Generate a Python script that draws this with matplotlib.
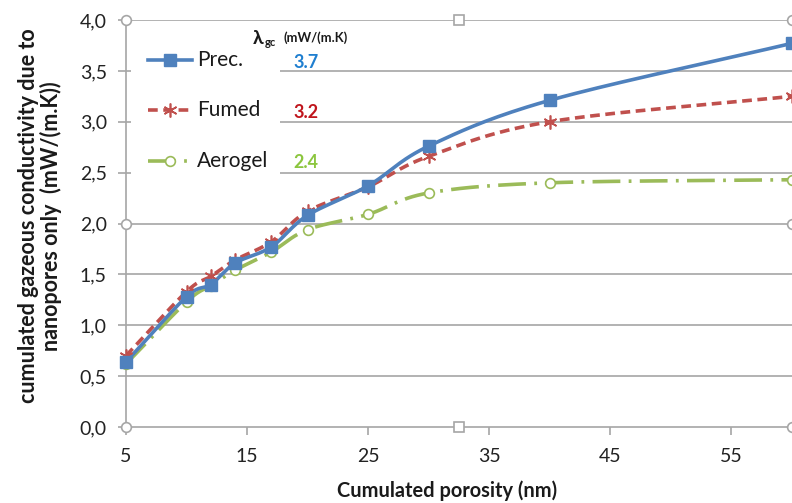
import numpy as np
import matplotlib
matplotlib.use("Agg")
import matplotlib.pyplot as plt
from matplotlib.patches import Rectangle
from matplotlib.lines import Line2D

plt.rcParams['font.family'] = ['Lato', 'DejaVu Sans']
plt.rcParams['lines.scale_dashes'] = False

# ---- data ----
pore_size = [5, 10, 12, 14, 17, 20, 25, 30, 40, 60]
prec = [0.64, 1.28, 1.40, 1.61, 1.77, 2.08, 2.37, 2.76, 3.21, 3.77]
fumed = [0.70, 1.33, 1.48, 1.64, 1.82, 2.12, 2.36, 2.66, 3.00, 3.25]
aerogel = [0.62, 1.23, 1.39, 1.54, 1.72, 1.94, 2.09, 2.30, 2.40, 2.43]
series_names = ["Prec.", "Fumed", "Aerogel"]
lambda_values = ["3.7", "3.2", "2.4"]
x_ticks = [5, 15, 25, 35, 45, 55]
y_ticks = [0.0, 0.5, 1.0, 1.5, 2.0, 2.5, 3.0, 3.5, 4.0]

col_blue = '#4F81BD'
col_red = '#C0504D'
col_green = '#9BBB59'
val_cols = ['#1F7FD0', '#C0161D', '#8CC63F']

W, H = 792, 503
fig = plt.figure(figsize=(W / 100, H / 100), dpi=100)
ax = fig.add_axes([126 / W, (H - 427) / H, (W - 126) / W - 0.0005, (427 - 20) / H])
ax.set_xlim(5, 60)
ax.set_ylim(0, 4)

sx, sy = 12.12, 101.75  # px per data unit (for screen-space smoothing)


def smooth(xs, ys, n=30):
    X = np.array(xs, float) * sx
    Y = np.array(ys, float) * sy
    P = np.column_stack([X, Y])
    P = np.vstack([2 * P[0] - P[1], P, 2 * P[-1] - P[-2]])
    out = []
    for i in range(1, len(P) - 2):
        p0, p1, p2, p3 = P[i - 1], P[i], P[i + 1], P[i + 2]
        t = np.linspace(0, 1, n, endpoint=False)[:, None]
        c = 0.5 * ((2 * p1) + (-p0 + p2) * t + (2 * p0 - 5 * p1 + 4 * p2 - p3) * t ** 2
                   + (-p0 + 3 * p1 - 3 * p2 + p3) * t ** 3)
        out.append(c)
    out.append(P[-2][None, :])
    C = np.vstack(out)
    return C[:, 0] / sx, C[:, 1] / sy


# grid
for yv in y_ticks[1:]:
    ax.axhline(yv, color='#a6a6a6', lw=1.2, zorder=1)

# legend background
ax.add_patch(Rectangle((5.4, 2.2), 17.7 - 5.4, 3.93 - 2.2, facecolor='white',
                       edgecolor='none', zorder=2))

lw = 2.6
styles = [
    dict(color=col_blue, ls='-', marker='s', ms=8, mfc=col_blue, mec=col_blue),
    dict(color=col_red, ls=(0, (7, 4)), marker=(6, 2, 0), ms=10, mfc=col_red, mec=col_red, mew=1.2),
    dict(color=col_green, ls=(0, (20, 6, 2, 6)), marker='o', ms=7, mfc='white', mec=col_green, mew=1.2),
]
for ys, st in zip([aerogel, fumed, prec], [styles[2], styles[1], styles[0]]):
    xs_s, ys_s = smooth(pore_size, ys)
    ax.plot(xs_s, ys_s, color=st['color'], ls=st['ls'], lw=lw, zorder=3,
            solid_capstyle='round', dash_capstyle='butt')
    ax.plot(pore_size, ys, ls='none', marker=st['marker'], ms=st['ms'], mfc=st['mfc'],
            mec=st['mec'], mew=st.get('mew', 1), zorder=4, clip_on=False)

# custom legend
def px(xp, yp):
    return ax.transData.inverted().transform(fig.transFigure.transform((xp / W, 1 - yp / H)))

leg_y = [60, 110, 161]
for name, st, yp, val, vc in zip(series_names, styles, leg_y, lambda_values, val_cols):
    a = px(148, yp)
    b = px(192, yp)
    ax.add_line(Line2D([a[0], b[0]], [a[1], b[1]], color=st['color'], ls=st['ls'], lw=lw, zorder=5))
    m = px(170, yp)
    ax.plot([m[0]], [m[1]], ls='none', marker=st['marker'], ms=st['ms'], mfc=st['mfc'],
            mec=st['mec'], mew=st.get('mew', 1), zorder=6)
    fig.text(197 / W, 1 - yp / H, name, fontsize=15, ha='left', va='center', color='#1a1a1a')
    fig.text(306 / W, 1 - (yp + 2) / H, val, fontsize=13, fontweight='bold', ha='center',
             va='center', color=vc)

fig.text(253 / W, 1 - 38 / H, "λ", fontsize=14, fontweight='bold', ha='left', va='center', color='#1a1a1a')
fig.text(265 / W, 1 - 43 / H, "gc", fontsize=8, fontweight='bold', ha='left', va='center', color='#1a1a1a')
fig.text(283 / W, 1 - 38 / H, "(mW/(m.K)", fontsize=9.4, fontweight='bold', ha='left', va='center', color='#1a1a1a')

# axes styling
for s in ['top', 'right']:
    ax.spines[s].set_visible(False)
for s in ['left', 'bottom']:
    ax.spines[s].set_color('#a6a6a6')
    ax.spines[s].set_linewidth(1.2)
ax.set_xticks(x_ticks)
ax.set_xticklabels([str(v) for v in x_ticks])
ax.set_yticks(y_ticks)
ax.set_yticklabels([f"{v:.1f}".replace('.', ',') for v in y_ticks])
ax.tick_params(axis='both', colors='#a6a6a6', labelcolor='#222222', labelsize=14,
               length=5.8, width=1.2, direction='out')
ax.tick_params(axis='y', pad=8)
ax.tick_params(axis='x', pad=9)

fig.text(447 / W, 1 - 491 / H, "Cumulated porosity (nm)", fontsize=14.4, fontweight='bold',
         ha='center', va='center', color='#1a1a1a')
fig.text(40 / W, 1 - 216 / H, "cumulated gazeous conductivity due to\nnanopores only  (mW/(m.K))",
         rotation=90, fontsize=15.5, fontweight='bold', ha='center', va='center',
         linespacing=1.05, color='#1a1a1a', multialignment='center')

# selection handles
for (hx, hy, mk) in [(0, 1, 'o'), (0.5, 1, 's'), (1, 1, 'o'), (0, 0.5, 'o'), (1, 0.5, 'o'),
                     (0, 0, 'o'), (0.5, 0, 's'), (1, 0, 'o')]:
    ax.plot([hx], [hy], marker=mk, ms=7, mfc='white', mec='#a6a6a6', mew=1.2,
            transform=ax.transAxes, clip_on=False, zorder=7)

fig.savefig("out.png", dpi=100)
